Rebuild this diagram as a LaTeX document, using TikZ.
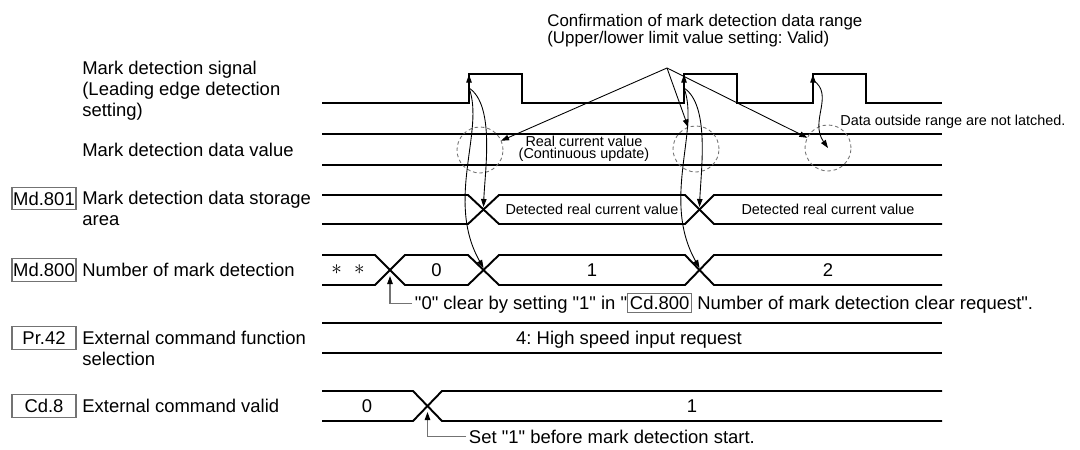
\documentclass[tikz,border=0pt]{standalone}
\usepackage{fontspec}
\setmainfont{Liberation Sans}[Ligatures=TeXOff]
\usetikzlibrary{arrows.meta,positioning}
\frenchspacing
\tikzset{
  wave/.style={line width=1.1pt, line join=miter},
  arr/.style={-{Triangle[length=1.6mm,width=1.1mm]}, line width=0.5pt},
  lead/.style={draw=black!55, line width=0.6pt,
               -{Triangle[length=1.6mm,width=1.1mm,color=black]}},
  rng/.style={circle, draw=black!55, dash pattern=on 2pt off 1.6pt,
              line width=0.5pt, minimum size=0.92cm, inner sep=0pt, outer sep=0pt},
  regbox/.style={draw=black!55, line width=0.6pt, minimum width=1.28cm,
                 minimum height=0.45cm, inner sep=0.5pt,
                 font=\fontsize{10.5}{11.7}\selectfont},
  lbl/.style={anchor=base west, align=left, inner sep=0pt,
              font=\fontsize{10.5}{11.7}\selectfont},
  val/.style={anchor=base, inner sep=0pt, font=\fontsize{10.5}{11.7}\selectfont},
  note/.style={anchor=base west, inner xsep=1.5pt, inner ysep=0pt,
               font=\fontsize{10.5}{11.7}\selectfont},
  head/.style={anchor=base west, align=left, inner sep=0pt,
               font=\fontsize{9.6}{9.4}\selectfont},
  small/.style={inner sep=0pt, align=center, font=\fontsize{8.2}{6.8}\selectfont},
}
\newcommand{\inbox}[1]{{\setlength{\fboxsep}{1pt}\setlength{\fboxrule}{0.6pt}%
  \fcolorbox{black!55}{white}{#1}}}

\begin{document}
\begin{tikzpicture}[x=0.02cm, y=-0.02cm]
\useasboundingbox (0,0) rectangle (1080,450);

% row labels (multi-line nodes sit on their last line)
\node[lbl] (lsig) at (82,116) {Mark detection signal\\(Leading edge detection\\setting)};
\node[lbl] (ldat) at (82,156.5) {Mark detection data value};
\node[regbox] (md801) at (44,198.5) {Md.801};
\node[lbl] (l801) at (82,225.5) {Mark detection data storage\\area};
\node[regbox] (md800) at (44,270) {Md.800};
\node[lbl] (l800) at (82,276.6) {Number of mark detection};
\node[regbox] (pr42) at (44,338) {Pr.42};
\node[lbl] (l42) at (82,365) {External command function\\selection};
\node[regbox] (cd8) at (44,406) {Cd.8};
\node[lbl] (l8) at (82,412.6) {External command valid};

% mark detection signal
\draw[wave] (322,103) -| (469,74) -| (522,103) -| (684,74) -| (737,103)
  -| (813,74) -| (866,103) -- (942,103);

% data value
\draw[wave] (322,134) -- (942,134) (322,165) -- (942,165);
\node[small] (rcv) at (584,149) {Real current value\\(Continuous update)};

% Md.801
\draw[wave] (322,195) -- (468,195) -- (499,224) -- (685,224) -- (714,195) -- (942,195);
\draw[wave] (322,224) -- (468,224) -- (499,195) -- (685,195) -- (714,224) -- (942,224);
\foreach \x in {592,828}
  \node[small, anchor=base] at (\x,214.2) {Detected real current value};

% Md.800
\draw[wave] (322,255) -- (375,255) -- (405,285) -- (468,285) -- (499,255)
  -- (685,255) -- (714,285) -- (942,285);
\draw[wave] (322,285) -- (375,285) -- (405,255) -- (468,255) -- (499,285)
  -- (685,285) -- (714,255) -- (942,255);
\node[inner sep=0pt, font=\fontsize{13}{14}\selectfont] (ast) at (348,270)
  {$\ast$\hspace{7pt}$\ast$};
\foreach \x/\v in {436.5/0, 592/1, 828/2}
  \node[val] at (\x,276.6) {\v};

% Pr.42
\draw[wave] (322,323) -- (942,323) (322,353) -- (942,353);
\node[val] (hsi) at (629,344.6) {4: High speed input request};

% Cd.8
\draw[wave] (322,391) -- (413,391) -- (442,421) -- (942,421);
\draw[wave] (322,421) -- (413,421) -- (442,391) -- (942,391);
\node[val] at (367,412.6) {0};
\node[val] at (692,412.6) {1};

% range check
\node[head] (conf) at (547,43.5) {Confirmation of mark detection data range\\
  (Upper/lower limit value setting: Valid)};
\coordinate (apex) at (667,68);
\node[rng] (c1) at (480,150) {};
\node[rng] (c2) at (696,149) {};
\node[rng] (c3) at (828,148) {};
\foreach \c in {c1,c2,c3}
  \draw[arr] (apex) -- (\c);
\node[small, anchor=base west] (outs) at (840,125) {Data outside range are not latched.};

% latching
\foreach \i/\r/\m in {1/469/483.5, 2/684/699.5} {
  \coordinate (e\i) at (\r,88);
  \coordinate (s\i) at (\m,207);
  \coordinate (n\i) at (\m,268);
  \draw[arr] (\r,96) -- (\r,74.6);
  \draw[arr] (e\i) .. controls +(26,17) and +(1.5,-37) .. (s\i);
  \draw[arr] (e\i) .. controls +(16,42) and +(-38.5,-68) .. (n\i);
}
\coordinate (e3) at (813,80);
\draw[arr] (813,96) -- (813,74.6);
\draw[arr] (e3) .. controls +(22,15) and +(-19,-27) .. (c3.center);

% notes
\coordinate (x0) at (390,276);
\node[note] (clr) at (412,309.6)
  {"0" clear by setting "1" in "\inbox{Cd.800} Number of mark detection clear request".};
\draw[lead] (clr.west) -| (x0);
\coordinate (x8) at (427.5,412);
\node[note] (setone) at (466,443) {Set "1" before mark detection start.};
\draw[lead] (setone.west) -| (x8);
\end{tikzpicture}
\end{document}
